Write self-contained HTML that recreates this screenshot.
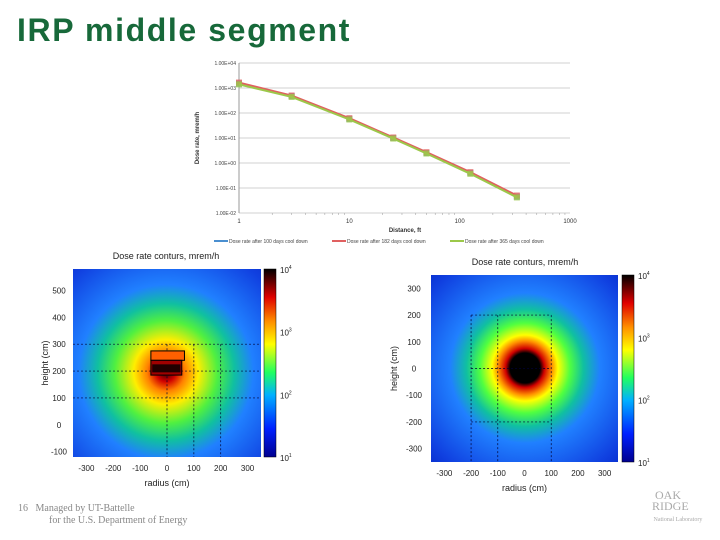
<!DOCTYPE html>
<html><head><meta charset="utf-8"><style>
body{margin:0;background:#fff;width:720px;height:540px;overflow:hidden;position:relative;font-family:"Liberation Sans",sans-serif}
.abs{position:absolute}
</style></head><body>
<div class="abs" style="left:17px;top:12px;font-size:32px;font-weight:bold;color:#17693a;letter-spacing:1.6px">IRP middle segment</div>

<svg class="abs" style="left:0;top:0" width="720" height="540">
<defs>
<linearGradient id="jet" x1="0" y1="1" x2="0" y2="0">
<stop offset="0" stop-color="#00008f"/><stop offset="0.15" stop-color="#0020ff"/><stop offset="0.33" stop-color="#00b0ff"/><stop offset="0.45" stop-color="#20ff60"/><stop offset="0.6" stop-color="#ffff00"/><stop offset="0.72" stop-color="#ff9000"/><stop offset="0.85" stop-color="#e00000"/><stop offset="1" stop-color="#000000"/>
</linearGradient>
<radialGradient id="hmL" cx="166" cy="372" r="190" gradientUnits="userSpaceOnUse">
<stop offset="0" stop-color="#300000"/><stop offset="0.05" stop-color="#d00000"/><stop offset="0.1" stop-color="#ff8000"/><stop offset="0.17" stop-color="#ffee00"/><stop offset="0.27" stop-color="#50f040"/><stop offset="0.36" stop-color="#10c0a0"/><stop offset="0.46" stop-color="#2080ff"/><stop offset="0.7" stop-color="#1040e0"/><stop offset="1" stop-color="#0010a0"/>
</radialGradient>
<radialGradient id="hmR" cx="525" cy="368" r="150" gradientUnits="userSpaceOnUse">
<stop offset="0" stop-color="#000"/><stop offset="0.1" stop-color="#000"/><stop offset="0.13" stop-color="#d00000"/><stop offset="0.18" stop-color="#ff9000"/><stop offset="0.22" stop-color="#ffff00"/><stop offset="0.3" stop-color="#50ff40"/><stop offset="0.39" stop-color="#10c0a0"/><stop offset="0.5" stop-color="#2080ff"/><stop offset="0.8" stop-color="#1040e0"/><stop offset="1" stop-color="#0020c0"/>
</radialGradient>
</defs>
<g id="topchart"></g>
<g id="hml"></g>
<g id="hmr"></g>
</svg>

<div class="abs" style="left:18px;top:503px;font-family:'Liberation Serif',serif;font-size:10px;color:#888;line-height:12px">16&nbsp;&nbsp; Managed by UT-Battelle<br><span style="padding-left:31px">for the U.S. Department of Energy</span></div>
<div class="abs" style="left:640px;top:490px;font-family:'Liberation Serif',serif;color:#aaa;font-size:12px;line-height:11px;text-align:left">&nbsp;&nbsp;&nbsp;&nbsp;&nbsp;OAK<br>&nbsp;&nbsp;&nbsp;&nbsp;RIDGE<br><span style="font-size:6px">&nbsp;&nbsp;&nbsp;&nbsp;&nbsp;&nbsp;&nbsp;&nbsp;&nbsp;National Laboratory</span></div>

<script>
const distances=[1,3,10,25,50,125,330];
const dose100=[1500,470,58,10,2.5,0.4,0.045];
const dose182=[1650,500,62,10.5,2.7,0.43,0.05];
const dose365=[1400,440,55,9.5,2.4,0.37,0.042];
const yTickLabels=["1.00E+04","1.00E+03","1.00E+02","1.00E+01","1.00E+00","1.00E-01","1.00E-02"];
const xTickLabels=["1","10","100","1000"];
const NS="http://www.w3.org/2000/svg";
function mk(tag,attrs,parent,txt){const e=document.createElementNS(NS,tag);for(const k in attrs)e.setAttribute(k,attrs[k]);if(txt!==undefined)e.textContent=txt;parent.appendChild(e);return e;}
const X0=239,X1=570,Y0=63,Y1=213;
const xs=v=>X0+(Math.log10(v)-0)/3*(X1-X0);
const ys=v=>Y0+(4-Math.log10(v))/6*(Y1-Y0);
const tc=document.getElementById('topchart');
yTickLabels.forEach((l,i)=>{const y=ys(Math.pow(10,4-i));
 const g=mk('line',{x1:X0,x2:X1,y1:y,y2:y,stroke:'#d0d0d0','stroke-width':1},tc);
 
 const t=mk('text',{x:X0-3,y:y+2,'font-size':5,'text-anchor':'end',fill:'#444'},tc,l);
 });
mk('line',{x1:X0,x2:X0,y1:Y0,y2:Y1,stroke:'#999'},tc);
for(let d=0;d<3;d++)for(let m=2;m<10;m++){const x=xs(m*Math.pow(10,d));mk('line',{x1:x,x2:x,y1:Y1,y2:Y1+2,stroke:'#999','stroke-width':0.5},tc);}
xTickLabels.forEach(l=>{const t=mk('text',{x:xs(+l),y:Y1+10,'font-size':6,'text-anchor':'middle',fill:'#333'},tc,l);
 });
const xt=mk('text',{x:405,y:232,'font-size':6,'font-weight':'bold','text-anchor':'middle',fill:'#333'},tc,'Distance, ft');

const yt=mk('text',{x:0,y:0,'font-size':6,'font-weight':'bold','text-anchor':'middle',fill:'#333',transform:'translate(199 138) rotate(-90)'},tc,'Dose rate, mrem/h');

const series=[[dose100,'#4a8fd0','Dose rate after 100 days cool down'],[dose182,'#e06060','Dose rate after 182 days cool down'],[dose365,'#9cc84a','Dose rate after 365 days cool down']];
series.forEach((s,si)=>{const pts=distances.map((d,i)=>xs(d)+','+ys(s[0][i])).join(' ');
 const pl=mk('polyline',{points:pts,fill:'none',stroke:s[1],'stroke-width':2},tc);
 
 distances.forEach((d,i)=>{const r=mk('rect',{x:xs(d)-3,y:ys(s[0][i])-3,width:6,height:6,fill:s[1],opacity:0.8},tc);
  });
 const lx=214+si*118;
 mk('line',{x1:lx,x2:lx+14,y1:241,y2:241,stroke:s[1],'stroke-width':2},tc);
 const lt=mk('text',{x:lx+15,y:243,'font-size':5,fill:'#444'},tc,s[2]);
 });

function heat(g,o){
 const G=document.getElementById(g);
 const sx=v=>o.px0+(v-o.xmin)/(o.xmax-o.xmin)*(o.px1-o.px0);
 const sy=v=>o.py1-(v-o.ymin)/(o.ymax-o.ymin)*(o.py1-o.py0);
 const r=mk('rect',{x:o.px0,y:o.py0,width:o.px1-o.px0,height:o.py1-o.py0,fill:o.fill},G);
 
 o.vlines.forEach(v=>mk('line',{x1:sx(v),x2:sx(v),y1:sy(o.vr[1]),y2:sy(o.vr[0]),stroke:'#003','stroke-width':0.7,'stroke-dasharray':'2,2'},G));
 o.hlines.forEach(v=>mk('line',{y1:sy(v),y2:sy(v),x1:sx(o.hr[0]),x2:sx(o.hr[1]),stroke:'#003','stroke-width':0.7,'stroke-dasharray':'2,2'},G));
 if(o.extra)o.extra(G,sx,sy);
 o.xticks.forEach(v=>{const t=mk('text',{x:sx(v),y:o.py1+14,'font-size':8,'text-anchor':'middle',fill:'#222'},G,String(v));
  });
 o.yticks.forEach(v=>{const t=mk('text',{x:o.px0-o.ylabOff,y:sy(v)+3,'font-size':8,'text-anchor':'middle',fill:'#222'},G,String(v));
  });
 const xt=mk('text',{x:(o.px0+o.px1)/2,y:o.py1+29,'font-size':9,'text-anchor':'middle',fill:'#222'},G,'radius (cm)');
 
 const yc=(o.py0+o.py1)/2;
 const yt=mk('text',{x:0,y:0,'font-size':9,'text-anchor':'middle',fill:'#222',transform:`translate(${o.ytx} ${yc}) rotate(-90)`},G,'height (cm)');
 
 const tt=mk('text',{x:o.titleX,y:o.titleY,'font-size':9,'text-anchor':'middle',fill:'#222'},G,'Dose rate conturs, mrem/h');
 
 const cb=mk('rect',{x:o.cbx,y:o.py0,width:12,height:o.py1-o.py0,fill:'url(#jet)',stroke:'#000','stroke-width':0.5},G);
 
 [4,3,2,1].forEach(p=>{const y=o.py1-(p-1)/3*(o.py1-o.py0);
  const t=mk('text',{x:o.cbx+16,y:y+4,'font-size':8,fill:'#222'},G,'10');
  const s=mk('tspan',{dy:-4,'font-size':5},t,String(p));
  });
}
heat('hml',{px0:73,px1:261,py0:269,py1:457,xmin:-350,xmax:350,ymin:-120,ymax:580,fill:'url(#hmL)',
 vlines:[0,100,200],vr:[-120,300],hlines:[100,200,300],hr:[-350,350],
 xticks:[-300,-200,-100,0,100,200,300],yticks:[-100,0,100,200,300,400,500],ylabOff:14,ytx:48,
 titleX:166,titleY:259,cbx:264,
 extra:(G,sx,sy)=>{mk('rect',{x:sx(-60),y:sy(275),width:sx(65)-sx(-60),height:sy(240)-sy(275),fill:'#ff6000',stroke:'#000','stroke-width':1},G);
  mk('rect',{x:sx(-60),y:sy(240),width:sx(55)-sx(-60),height:sy(185)-sy(240),fill:'#a00000',stroke:'#000','stroke-width':1},G);
  mk('rect',{x:sx(-55),y:sy(225),width:sx(50)-sx(-55),height:8,fill:'#200000'},G);}});
heat('hmr',{px0:431,px1:618,py0:275,py1:462,xmin:-350,xmax:350,ymin:-350,ymax:350,fill:'url(#hmR)',
 vlines:[-200,-100,100],vr:[-350,200],hlines:[200,0,-200],hr:[-200,100],
 xticks:[-300,-200,-100,0,100,200,300],yticks:[-300,-200,-100,0,100,200,300],ylabOff:17,ytx:397,
 titleX:525,titleY:265,cbx:622});
</script>
</body></html>
